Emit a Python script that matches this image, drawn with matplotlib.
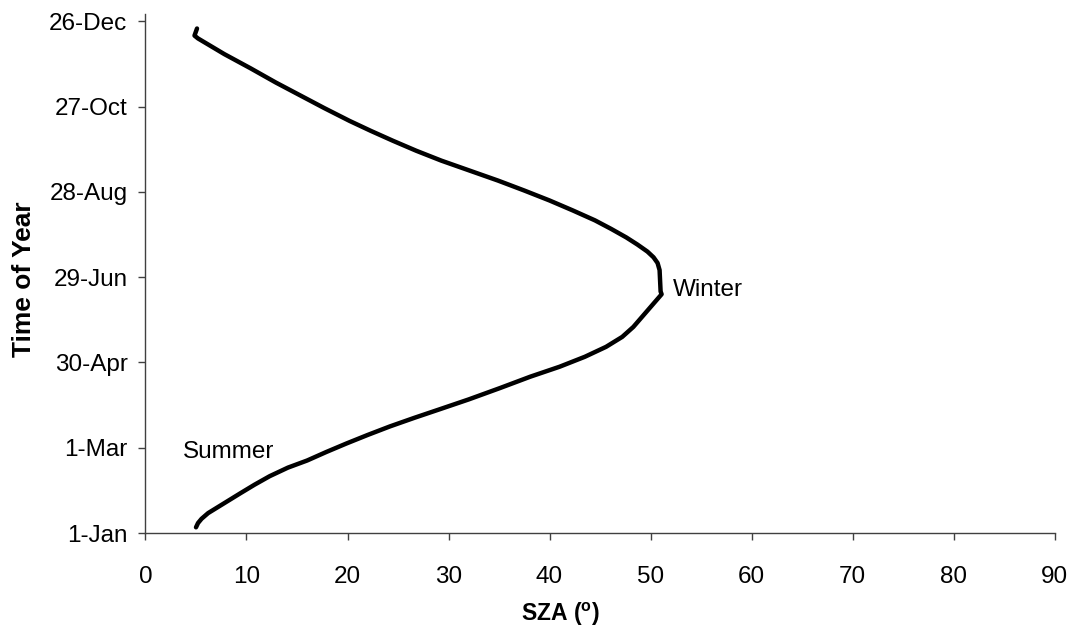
import matplotlib
matplotlib.use("Agg")
import matplotlib.pyplot as plt

plt.rcParams['font.family'] = ['Liberation Sans', 'DejaVu Sans']
plt.rcParams['mathtext.fontset'] = 'custom'
plt.rcParams['mathtext.rm'] = 'Liberation Sans'
plt.rcParams['mathtext.bf'] = 'Liberation Sans:bold'

# Solar zenith angle at noon through the year (day of year, leap year)
day_of_year = [5, 8, 11, 15, 22, 29, 35, 41, 47, 52, 58, 64, 70, 76, 82, 88, 95,
               103, 111, 118, 125, 132, 139, 146, 169,
               171, 186, 191, 195, 199, 204, 209, 215, 221, 228, 235, 242, 249,
               256, 263, 270, 277, 284, 291, 300, 309, 318, 328, 338, 349, 351, 356]
sza_deg = [5.0, 5.2, 5.55, 6.2, 7.8, 9.4, 10.8, 12.3, 14.1, 16.0, 17.9, 19.9, 22.0,
           24.2, 26.6, 29.1, 32.0, 35.1, 38.1, 41.0, 43.5, 45.6, 47.2, 48.3, 51.1,
           51.0, 50.9, 50.7, 50.3, 49.7, 48.7, 47.6, 46.1, 44.5, 42.3, 40.0, 37.5,
           34.9, 32.1, 29.3, 26.8, 24.5, 22.3, 20.2, 17.7, 15.3, 12.9, 10.4, 7.8,
           5.2, 4.85, 5.1]

# Axis ticks
y_tick_days = [1, 61, 121, 181, 241, 301, 361]
y_tick_labels = ["1-Jan", "1-Mar", "30-Apr", "29-Jun", "28-Aug", "27-Oct", "26-Dec"]
x_ticks = [0, 10, 20, 30, 40, 50, 60, 70, 80, 90]

W, H = 1077, 633
fig = plt.figure(figsize=(W / 100, H / 100), dpi=100)
ax = fig.add_axes([145.5 / W, 100 / H, 909 / W, 518.7 / H])

ax.plot(sza_deg, day_of_year, color='black', lw=3.2,
        solid_capstyle='round', solid_joinstyle='round')

ax.set_xlim(0, 90)
ax.set_ylim(1, 366)
ax.set_xticks(x_ticks)
ax.set_yticks(y_tick_days)
ax.set_yticklabels(y_tick_labels)

axis_color = '#404040'
for side in ('top', 'right'):
    ax.spines[side].set_visible(False)
for side in ('left', 'bottom'):
    ax.spines[side].set_color(axis_color)
    ax.spines[side].set_linewidth(1.0)

fs = 17.5
ax.tick_params(axis='both', direction='out', length=5, width=1.0,
               color=axis_color, labelsize=fs, labelcolor='black')
ax.tick_params(axis='x', pad=19)
ax.tick_params(axis='y', pad=8)

ax.set_xlabel('SZA ($^{\\mathregular{o}}$)', fontsize=16.5, fontweight='bold')
ax.xaxis.set_label_coords(0.457, -0.13)
ax.set_ylabel('Time of Year', fontsize=19, fontweight='bold')
ax.yaxis.set_label_coords(-0.1205, 0.49)

ax.text(3.7, 58, 'Summer', fontsize=fs, ha='left', va='center')
ax.text(52.2, 172, 'Winter', fontsize=fs, ha='left', va='center')

fig.savefig('out.png', dpi=100, facecolor='white')
